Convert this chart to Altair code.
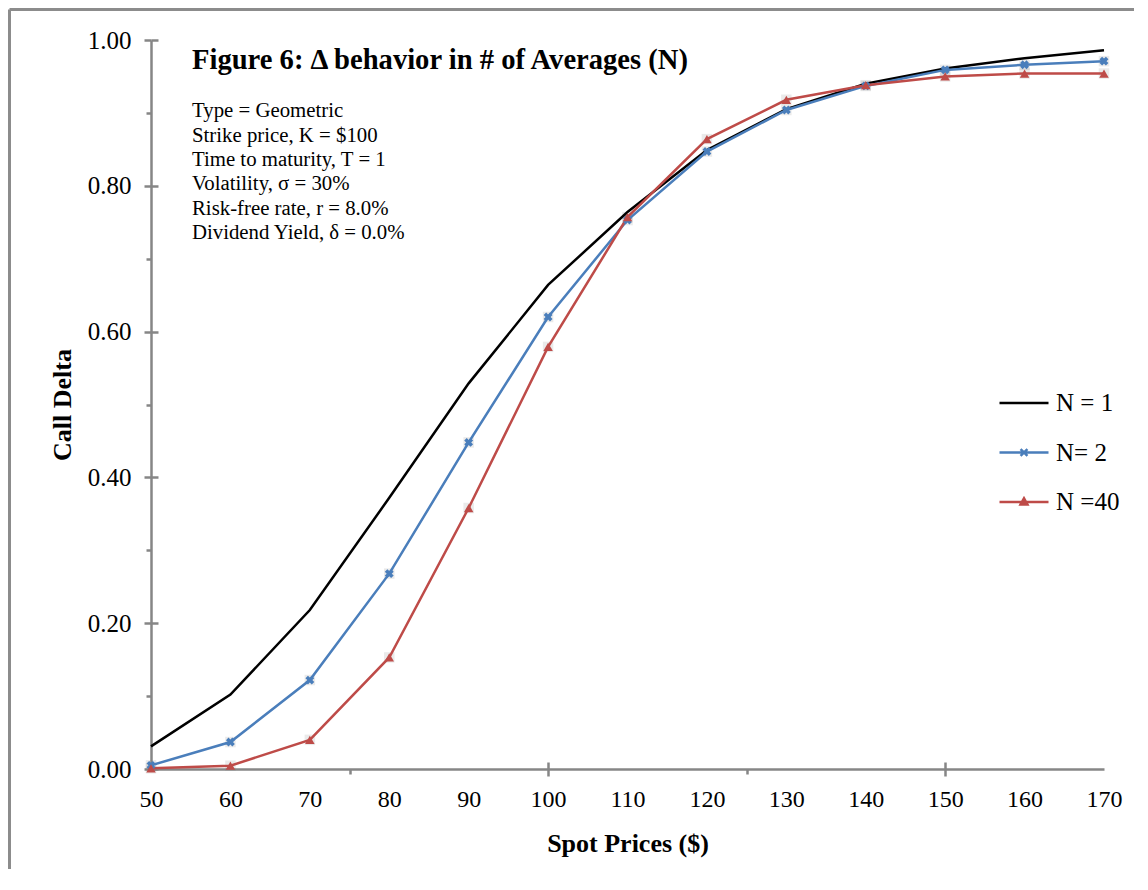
import altair as alt
import pandas as pd

# ---- data ----
spot = [50, 60, 70, 80, 90, 100, 110, 120, 130, 140, 150, 160, 170]
delta_n1 = [0.031, 0.102, 0.218, 0.372, 0.529, 0.664, 0.764, 0.849, 0.905, 0.940, 0.961, 0.975, 0.986]
delta_n2 = [0.005, 0.037, 0.122, 0.268, 0.448, 0.620, 0.753, 0.847, 0.904, 0.937, 0.959, 0.966, 0.971]
delta_n40 = [0.001, 0.0045, 0.040, 0.153, 0.358, 0.579, 0.757, 0.864, 0.918, 0.938, 0.950, 0.954, 0.954]
series_names = ["N = 1", "N= 2", "N =40"]
series_colors = ["#000000", "#4A7EBB", "#BE4B48"]
x_label_values = spot
x_tick_values = [75, 100, 125, 150]
x_major_ticks = [100, 150]
y_tick_values = [0.0, 0.1, 0.2, 0.3, 0.4, 0.5, 0.6, 0.7, 0.8, 0.9, 1.0]
y_major_ticks = [0.0, 0.2, 0.4, 0.6, 0.8, 1.0]

title_text = "Figure 6: Δ behavior in # of Averages (N)"
info_lines = [
    "Type = Geometric",
    "Strike price, K = $100",
    "Time to maturity, T = 1",
    "\u2004Volatility, σ = 30%",
    "Risk-free rate, r = 8.0%",
    "Dividend Yield, δ = 0.0%",
]

rows = []
for name, vals in zip(series_names, [delta_n1, delta_n2, delta_n40]):
    for s, d in zip(spot, vals):
        rows.append({"spot": s, "delta": d, "series": name})
df = pd.DataFrame(rows)

FONT = "Liberation Serif"
AXIS_GRAY = "#868686"

xs = alt.Scale(domain=[50, 170], nice=False, zero=False)
ys = alt.Scale(domain=[0, 1], nice=False, zero=False)
cs = alt.Scale(domain=series_names, range=series_colors)

# legend symbols: a line with the series marker in the middle
legend_paths = [
    "M-1,0L1,0",
    "M-1,0L1,0M-0.14,-0.14L0.14,0.14M-0.14,0.14L0.14,-0.14",
    "M-1,0L1,0M-0.14,0.1L0,-0.15L0.14,0.1Z",
]

x_label_axis = alt.Axis(
    orient="bottom",
    values=x_label_values, ticks=False, format="d", title="Spot Prices ($)",
    labelFont=FONT, labelFontSize=24, labelColor="black", labelPadding=18,
    titleFont=FONT, titleFontSize=26, titleFontWeight="bold", titleColor="black",
    titlePadding=19, domainColor=AXIS_GRAY, domainWidth=2.5, grid=False,
    labelFlush=False, labelOverlap=False,
)
x_tick_axis = alt.Axis(
    orient="bottom",
    values=x_tick_values, labels=False, domain=False, title=None,
    tickColor=AXIS_GRAY, tickWidth=2.5,
    tickSize={"condition": {"test": "datum.value % 50 == 0", "value": 7}, "value": 5},
    grid=False,
)
x_inner_axis = alt.Axis(
    orient="bottom", offset=-7,
    values=x_major_ticks, labels=False, domain=False, title=None,
    tickColor=AXIS_GRAY, tickWidth=2.5, tickSize=7, grid=False,
)
y_axis = alt.Axis(
    orient="left",
    values=y_tick_values,
    labelExpr="round(datum.value*10) % 2 == 0 ? format(datum.value, '.2f') : ''",
    title="Call Delta", labelFont=FONT, labelFontSize=25, labelColor="black",
    labelPadding=13, tickColor=AXIS_GRAY, tickWidth=2.5,
    tickSize={"condition": {"test": "round(datum.value*10) % 2 == 0", "value": 7}, "value": 5},
    domainColor=AXIS_GRAY, domainWidth=2.5, grid=False,
    titleFont=FONT, titleFontSize=26, titleFontWeight="bold", titleColor="black",
    titlePadding=12, labelOverlap=False,
)
y_inner_axis = alt.Axis(
    orient="left", offset=-7,
    values=y_major_ticks, labels=False, domain=False, title=None,
    tickColor=AXIS_GRAY, tickWidth=2.5, tickSize=7, grid=False,
)

leg = alt.Legend(
    orient="none", legendX=847, legendY=337, title=None,
    symbolSize=2401, symbolStrokeWidth=2.5, symbolOpacity=1,
    labelFont=FONT, labelFontSize=25, labelColor="black", labelOffset=6,
    rowPadding=10.5, padding=0,
)

base = alt.Chart(df)

lines = base.mark_line(strokeWidth=2.5).encode(
    x=alt.X("spot:Q", scale=xs, axis=x_label_axis),
    y=alt.Y("delta:Q", scale=ys, axis=y_axis),
    color=alt.Color("series:N", scale=cs, legend=leg),
    detail="series:N",
)

halo = base.transform_filter(alt.datum.series != series_names[0]).mark_point(
    shape="square", filled=True, size=110, opacity=0.16, color="#7f7f7f"
).encode(
    x=alt.X("spot:Q", scale=xs, axis=x_inner_axis),
    y=alt.Y("delta:Q", scale=ys, axis=y_inner_axis),
)

pts2 = base.transform_filter(alt.datum.series == series_names[1]).mark_point(
    shape="cross", angle=45, filled=True, size=80, opacity=1, color=series_colors[1]
).encode(
    x=alt.X("spot:Q", scale=xs, axis=x_tick_axis),
    y=alt.Y("delta:Q", scale=ys, axis=None),
)

pts40 = base.transform_filter(alt.datum.series == series_names[2]).mark_point(
    shape="triangle-up", filled=True, size=90, opacity=1, color=series_colors[2]
).encode(
    x=alt.X("spot:Q", scale=xs, axis=None),
    y=alt.Y("delta:Q", scale=ys, axis=None),
)

legend_layer = base.transform_filter("false").mark_point(
    filled=False, strokeWidth=2.5, opacity=1
).encode(
    x=alt.X("spot:Q", scale=xs, axis=None),
    y=alt.Y("delta:Q", scale=ys, axis=None),
    color=alt.Color("series:N", scale=cs, legend=leg),
    shape=alt.Shape("series:N", scale=alt.Scale(domain=series_names, range=legend_paths), legend=leg),
)

frame = alt.Chart(pd.DataFrame({"k": [0]})).mark_rule(color="#8C8C8C", strokeWidth=3).encode(
    x=alt.value(-141.5), y=alt.value(-30.5), y2=alt.value(840)
)
frame_top = alt.Chart(pd.DataFrame({"k": [0]})).mark_rule(color="#8C8C8C", strokeWidth=3).encode(
    x=alt.value(-141.5), x2=alt.value(990), y=alt.value(-30.5)
)

chart = alt.layer(halo, lines, pts2, pts40, legend_layer, frame, frame_top).resolve_axis(
    x="independent", y="independent"
).properties(
    width=953,
    height=729,
    padding={"left": 143, "top": 32, "right": 30, "bottom": 100},
    autosize=alt.AutoSizeParams(type="none"),
    background="white",
    view=alt.ViewBackground(stroke="transparent", strokeWidth=0, strokeOpacity=0),
    title=alt.TitleParams(
        text=title_text, subtitle=info_lines, anchor="start", frame="group",
        orient="top", offset=0, dx=41, dy=235,
        font=FONT, fontSize=28.6, fontWeight="bold", color="black",
        subtitleFont=FONT, subtitleFontSize=20.8, subtitleColor="black",
        subtitleLineHeight=24.4, subtitlePadding=27,
    ),
).configure_view(stroke="transparent", strokeWidth=0)

chart.save("out.html", embed_options={"renderer": "svg", "actions": False})
